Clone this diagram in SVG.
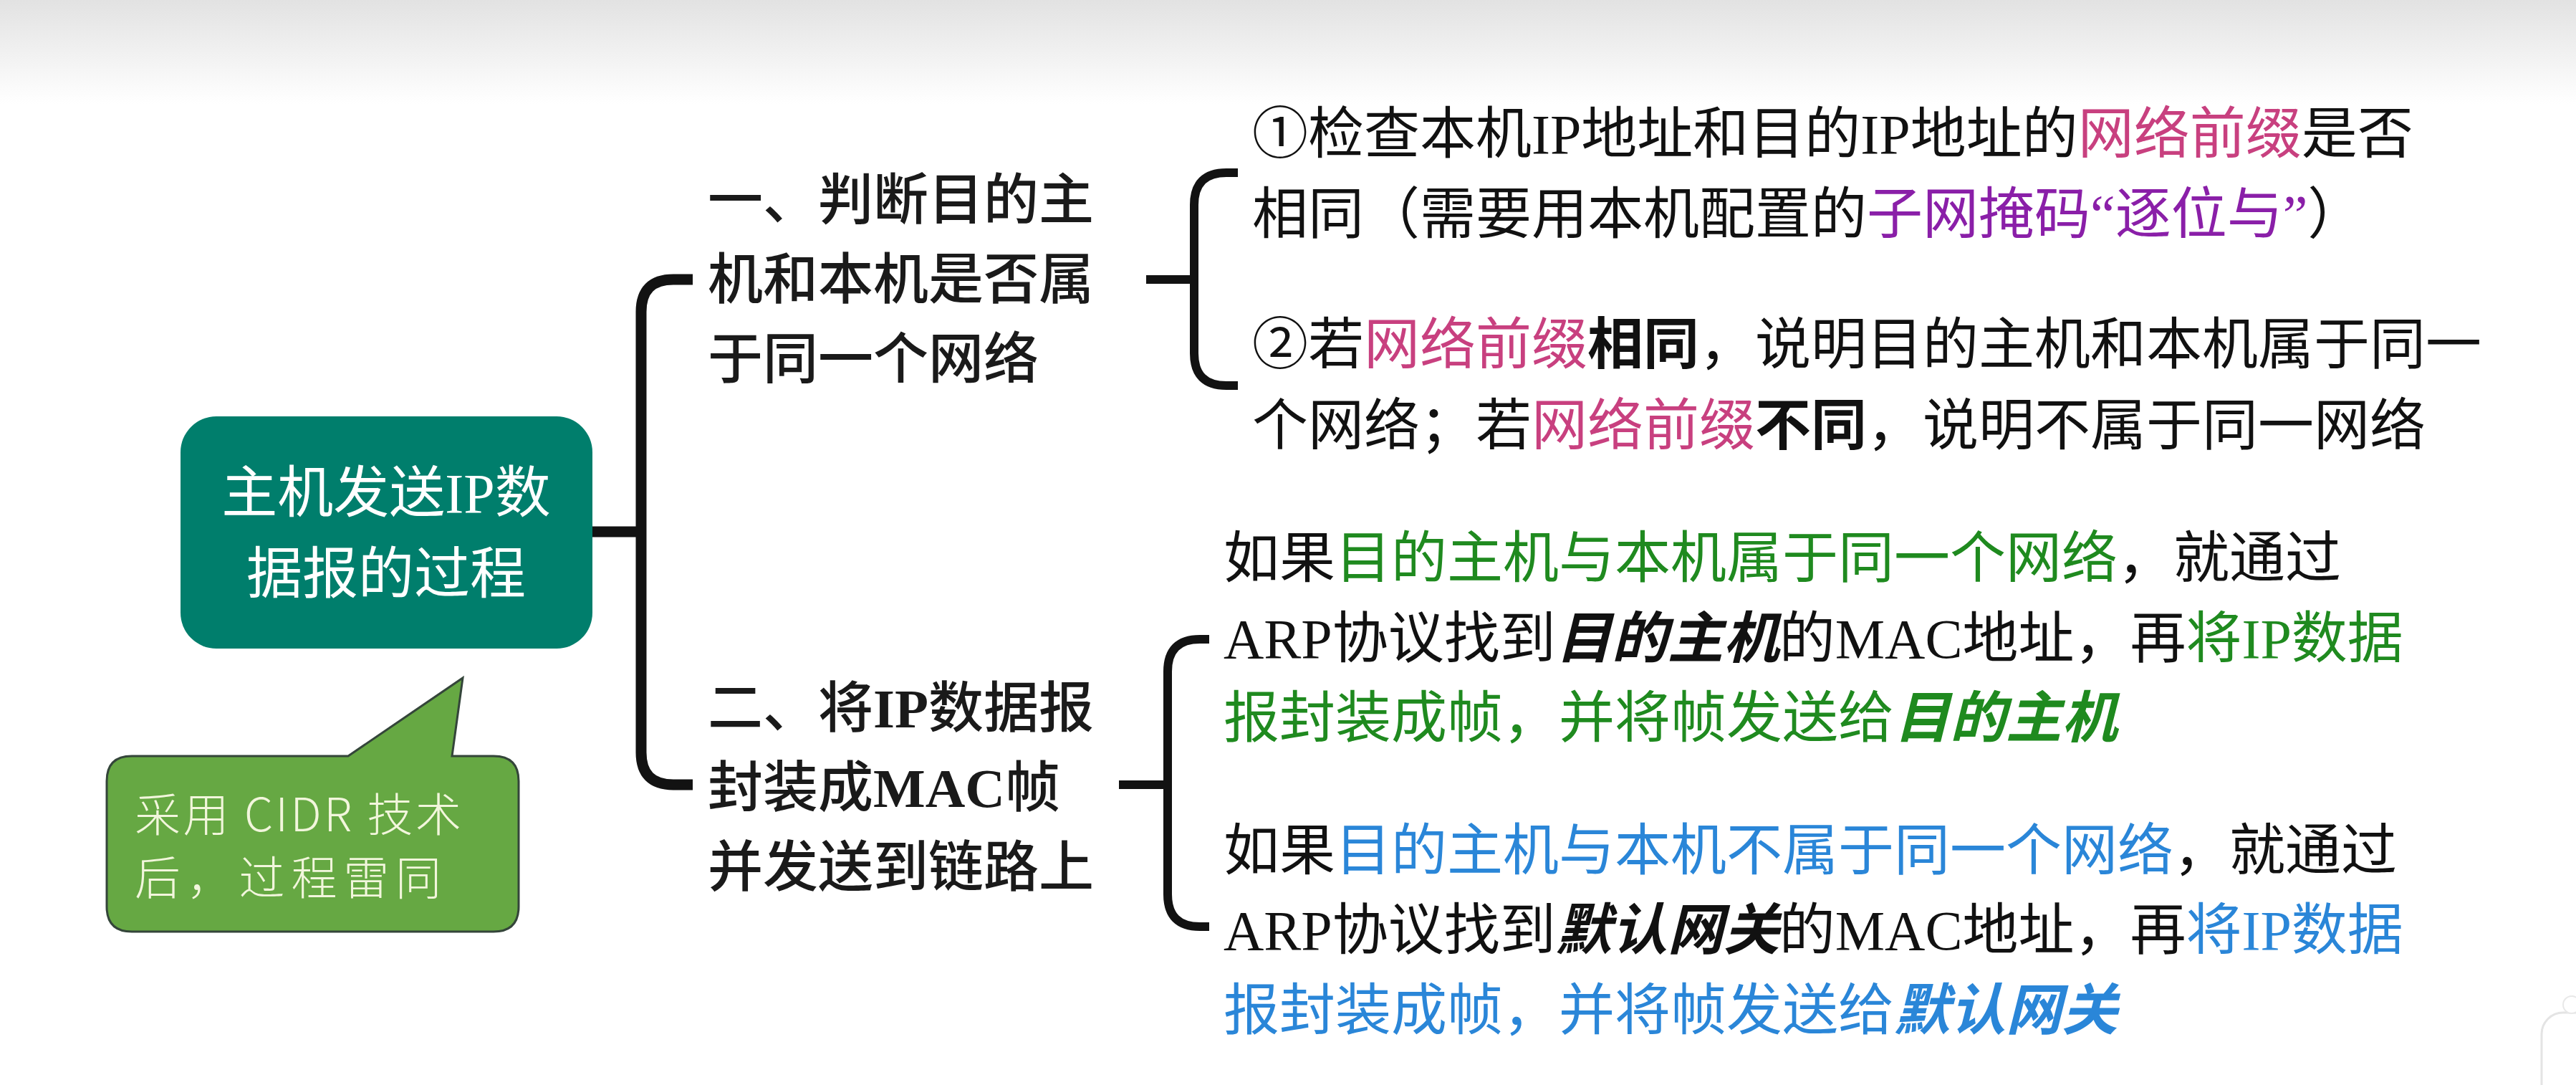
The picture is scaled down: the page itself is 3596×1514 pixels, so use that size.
<svg xmlns="http://www.w3.org/2000/svg" width="3596" height="1514" viewBox="0 0 3596 1514">
<defs>
<linearGradient id="topband" x1="0" y1="0" x2="0" y2="1">
<stop offset="0" stop-color="#e2e2e2"/>
<stop offset="1" stop-color="#ffffff"/>
</linearGradient>
<style>
.t{font-family:"Liberation Serif","Noto Sans CJK SC",sans-serif;}
.r{font-size:78px;fill:#111;}
.mid{font-size:77px;font-weight:500;fill:#1a1a1a;}
.main{font-size:78px;fill:#ffffff;}
.note{font-family:"Noto Sans CJK SC",sans-serif;font-size:64px;font-weight:300;fill:#f2f6dc;}
.pk{fill:#c8407f;}
.pu{fill:#8a1fa8;}
.gr{fill:#1f8a1f;}
.bl{fill:#2a86d8;}
.b{font-weight:bold;}
.bi{font-weight:bold;font-style:italic;}
.ln{fill:none;stroke:#121212;stroke-linecap:butt;}
</style>
</defs>
<rect x="0" y="0" width="3596" height="1514" fill="#ffffff"/>
<rect x="0" y="0" width="3596" height="145" fill="url(#topband)"/>

<g id="connectors">
<line class="ln" x1="827" y1="742" x2="895" y2="742" stroke-width="15"/>
<path class="ln" d="M967 390 L940 390 Q895 390 895 435 L895 1050 Q895 1095 940 1095 L967 1095" stroke-width="15"/>
<line class="ln" x1="1600" y1="390" x2="1667" y2="390" stroke-width="12"/>
<path class="ln" d="M1728 241 L1712 241 Q1667 241 1667 286 L1667 493 Q1667 538 1712 538 L1728 538" stroke-width="12"/>
<line class="ln" x1="1562" y1="1095" x2="1630" y2="1095" stroke-width="12"/>
<path class="ln" d="M1688 892 L1675 892 Q1630 892 1630 937 L1630 1248 Q1630 1293 1675 1293 L1688 1293" stroke-width="12"/>
</g>

<g id="root">
<rect x="252" y="581" width="575" height="324" rx="50" fill="#007e6c"/>
<text class="t main" text-anchor="middle" x="539" y="715">主机发送IP数</text>
<text class="t main" text-anchor="middle" x="539" y="828">据报的过程</text>
</g>

<g id="note">
<path d="M184 1055 L486 1055 L646 946 L631 1055 L689 1055 Q724 1055 724 1090 L724 1265 Q724 1300 689 1300 L184 1300 Q149 1300 149 1265 L149 1090 Q149 1055 184 1055 Z" fill="#66a843" stroke="#34453a" stroke-width="3"/>
<text class="note" x="188" y="1160" textLength="456" lengthAdjust="spacing">采用 CIDR 技术</text>
<text class="note" x="188" y="1248" textLength="428" lengthAdjust="spacing">后，过程雷同</text>
</g>

<g id="step1">
<text class="t mid" x="988" y="306">一、判断目的主</text>
<text class="t mid" x="988" y="417">机和本机是否属</text>
<text class="t mid" x="988" y="528">于同一个网络</text>
</g>

<g id="step2">
<text class="t mid" x="988" y="1015">二、将<tspan class="b">IP</tspan>数据报</text>
<text class="t mid" x="988" y="1126">封装成<tspan class="b">MAC</tspan>帧</text>
<text class="t mid" x="988" y="1237">并发送到链路上</text>
</g>

<g id="step1-detail">
<text class="t r" x="1748" y="214">①检查本机IP地址和目的IP地址的<tspan class="pk">网络前缀</tspan>是否</text>
<text class="t r" x="1748" y="326">相同（需要用本机配置的<tspan class="pu">子网掩码“逐位与”</tspan>）</text>
<text class="t r" x="1748" y="508">②若<tspan class="pk">网络前缀</tspan><tspan class="b">相同</tspan>，说明目的主机和本机属于同一</text>
<text class="t r" x="1748" y="621">个网络；若<tspan class="pk">网络前缀</tspan><tspan class="b">不同</tspan>，说明不属于同一网络</text>
</g>

<g id="step2-detail">
<text class="t r" x="1708" y="806">如果<tspan class="gr">目的主机与本机属于同一个网络</tspan>，就通过</text>
<text class="t r" x="1708" y="918">ARP协议找到<tspan class="bi">目的主机</tspan>的MAC地址，再<tspan class="gr">将IP数据</tspan></text>
<text class="t r gr" x="1708" y="1029">报封装成帧，并将帧发送给<tspan class="bi">目的主机</tspan></text>
<text class="t r" x="1708" y="1214">如果<tspan class="bl">目的主机与本机不属于同一个网络</tspan>，就通过</text>
<text class="t r" x="1708" y="1325">ARP协议找到<tspan class="bi">默认网关</tspan>的MAC地址，再<tspan class="bl">将IP数据</tspan></text>
<text class="t r bl" x="1708" y="1437">报封装成帧，并将帧发送给<tspan class="bi">默认网关</tspan></text>
</g>

<g id="corner-artifact">
<rect x="3548" y="1413" width="90" height="150" rx="30" fill="#ffffff" stroke="#e4e4e4" stroke-width="3"/>
<circle cx="3590" cy="1402" r="12" fill="#ffffff" stroke="#e8e8e8" stroke-width="2"/>
</g>
</svg>
